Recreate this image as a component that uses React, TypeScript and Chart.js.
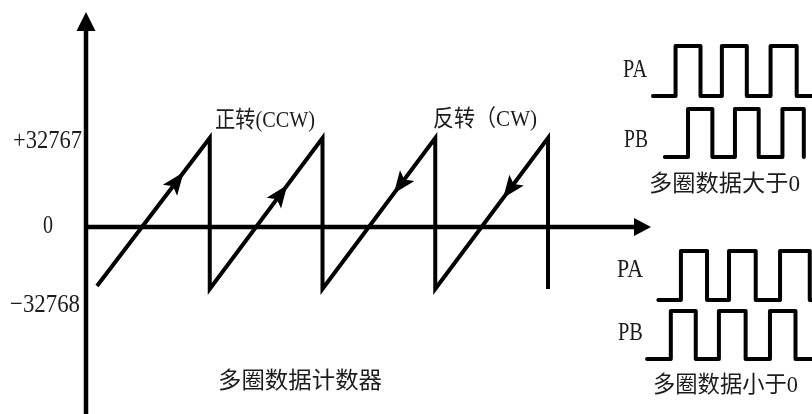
import React, { useEffect, useRef } from 'react';
import { Chart, registerables } from 'chart.js';

Chart.register(...registerables);

// ---- Multi-turn counter sawtooth: x in revolutions, y in counts ----
const SAW_T = [0, 1, 1, 2, 2, 3, 3, 4, 4];
const SAW_V = [-31500, 32767, -32768, 32767, -32768, 32767, -32768, 32767, -32768];
// arrowheads on the ramps (position in revolutions, +1 = forward / -1 = backward)
const ARROW_T = [0.76, 1.68, 2.64, 3.61];
const ARROW_DIR = [1, 1, -1, -1];

// ---- Texts ----
const TICK_LABELS = ['+32767', '0', '\u221232768'];
const RAMP_LABELS = ['正转(CCW)', '反转（CW)'];
const COUNTER_TITLE = '多圈数据计数器';
const PULSE_TITLES = ['多圈数据大于0', '多圈数据小于0'];
const CHANNEL_LABELS = ['PA', 'PB', 'PA', 'PB'];

// ---- Quadrature pulse trains: time in quarter periods, logic level 0/1 ----
const PA_POS_T = [0, 1.9, 4.0, 5.8, 7.9, 9.9, 12.1, 13.6];
const PA_POS_L = [0, 1, 0, 1, 0, 1, 0, 0];
const PB_POS_T = [1.0, 2.95, 5.0, 6.9, 8.9, 10.9, 12.7];
const PB_POS_L = [0, 1, 0, 1, 0, 1, 0];
const PA_NEG_T = [0.45, 2.35, 4.55, 6.4, 8.65, 10.7, 13.2, 13.6];
const PA_NEG_L = [0, 1, 0, 1, 0, 1, 0, 0];
const PB_NEG_T = [-0.5, 1.5, 3.6, 5.55, 7.8, 9.85, 12.0, 13.6];
const PB_NEG_L = [0, 1, 0, 1, 0, 1, 0, 0];

const W = 812;
const H = 414;
const INK = '#000';
const FONT_STACK = '"Liberation Serif", "Noto Sans CJK SC", serif';

function xRange(p0: number, v0: number, p1: number, v1: number, size: number) {
  const s = (p1 - p0) / (v1 - v0);
  const min = v0 - p0 / s;
  return { min, max: min + size / s };
}
function yRange(p0: number, v0: number, p1: number, v1: number, size: number) {
  const s = (p0 - p1) / (v1 - v0);
  const min = v0 - (size - p0) / s;
  return { min, max: min + size / s };
}

function pts(xs: number[], ys: number[]) {
  return xs.map((x, i) => ({ x, y: ys[i] }));
}

function drawText(ctx: CanvasRenderingContext2D, text: string, left: number, cy: number, width: number, size: number) {
  ctx.save();
  ctx.font = `${size}px ${FONT_STACK}`;
  ctx.textBaseline = 'middle';
  ctx.textAlign = 'left';
  const m = ctx.measureText(text).width || 1;
  ctx.translate(left, cy);
  ctx.scale(width / m, 1);
  ctx.fillStyle = '#1c1c1c';
  ctx.fillText(text, 0, 0);
  ctx.restore();
}

const diagramPlugin = {
  id: 'diagram',
  afterDatasetsDraw(chart: any) {
    const ctx: CanvasRenderingContext2D = chart.ctx;
    const xs = chart.scales.x;
    const ys = chart.scales.y;
    ctx.save();
    ctx.fillStyle = INK;
    ctx.strokeStyle = INK;

    // axes with arrowheads
    const ax = 86;
    const ay = 227;
    ctx.lineWidth = 4.5;
    ctx.lineCap = 'butt';
    ctx.beginPath();
    ctx.moveTo(ax, H);
    ctx.lineTo(ax, 28);
    ctx.moveTo(ax - 2, ay);
    ctx.lineTo(637, ay);
    ctx.stroke();
    ctx.beginPath();
    ctx.moveTo(ax, 12);
    ctx.lineTo(ax + 9.5, 31);
    ctx.lineTo(ax - 9.5, 31);
    ctx.closePath();
    ctx.fill();
    ctx.beginPath();
    ctx.moveTo(651, ay);
    ctx.lineTo(634, ay - 9);
    ctx.lineTo(634, ay + 9);
    ctx.closePath();
    ctx.fill();

    // arrowheads on sawtooth ramps
    ARROW_T.forEach((t, i) => {
      for (let k = 0; k < SAW_T.length - 1; k++) {
        const t0 = SAW_T[k];
        const t1 = SAW_T[k + 1];
        if (t1 > t0 && t >= t0 && t <= t1) {
          const x0 = xs.getPixelForValue(t0);
          const y0 = ys.getPixelForValue(SAW_V[k]);
          const x1 = xs.getPixelForValue(t1);
          const y1 = ys.getPixelForValue(SAW_V[k + 1]);
          const f = (t - t0) / (t1 - t0);
          const px = x0 + (x1 - x0) * f;
          const py = y0 + (y1 - y0) * f;
          let dx = x1 - x0;
          let dy = y1 - y0;
          const len = Math.hypot(dx, dy);
          dx = (dx / len) * ARROW_DIR[i];
          dy = (dy / len) * ARROW_DIR[i];
          const nx = -dy;
          const ny = dx;
          const L = 21;
          const Wd = 9;
          const notch = 5;
          ctx.beginPath();
          ctx.moveTo(px + dx * 1.5, py + dy * 1.5);
          ctx.lineTo(px - dx * L + nx * Wd, py - dy * L + ny * Wd);
          ctx.lineTo(px - dx * (L - notch), py - dy * (L - notch));
          ctx.lineTo(px - dx * L - nx * Wd, py - dy * L - ny * Wd);
          ctx.closePath();
          ctx.fill();
          break;
        }
      }
    });
    ctx.restore();

    // texts
    drawText(ctx, TICK_LABELS[0], 13, 141, 69, 26);
    drawText(ctx, TICK_LABELS[1], 43, 226, 10, 26);
    drawText(ctx, TICK_LABELS[2], 10, 305, 70, 26);
    drawText(ctx, RAMP_LABELS[0], 215, 121, 100, 23);
    drawText(ctx, RAMP_LABELS[1], 433, 120, 104, 23);
    drawText(ctx, COUNTER_TITLE, 218, 382, 164, 23);
    drawText(ctx, PULSE_TITLES[0], 649, 185, 151, 23);
    drawText(ctx, PULSE_TITLES[1], 653, 386, 145, 23);
    drawText(ctx, CHANNEL_LABELS[0], 623, 70, 24, 25);
    drawText(ctx, CHANNEL_LABELS[1], 624, 140, 24, 25);
    drawText(ctx, CHANNEL_LABELS[2], 617, 270, 26, 25);
    drawText(ctx, CHANNEL_LABELS[3], 618, 333, 25, 25);
  },
};

export default function App() {
  const ref = useRef<HTMLCanvasElement>(null);
  useEffect(() => {
    const canvas = ref.current;
    if (!canvas) return;
    const pulse = (data: any[], yAxisID: string) => ({
      data,
      xAxisID: 'xp',
      yAxisID,
      stepped: true,
      borderColor: INK,
      borderWidth: 4,
      borderCapStyle: 'round',
      borderJoinStyle: 'round',
      pointRadius: 0,
      fill: false,
      tension: 0,
    });
    const chart = new Chart(canvas, {
      type: 'line',
      data: {
        datasets: [
          {
            data: pts(SAW_T, SAW_V),
            xAxisID: 'x',
            yAxisID: 'y',
            borderColor: INK,
            borderWidth: 4,
            borderCapStyle: 'butt',
            borderJoinStyle: 'miter',
            pointRadius: 0,
            fill: false,
            tension: 0,
          } as any,
          pulse(pts(PA_POS_T, PA_POS_L), 'yPA1'),
          pulse(pts(PB_POS_T, PB_POS_L), 'yPB1'),
          pulse(pts(PA_NEG_T, PA_NEG_L), 'yPA2'),
          pulse(pts(PB_NEG_T, PB_NEG_L), 'yPB2'),
        ],
      },
      options: {
        responsive: false,
        animation: false,
        devicePixelRatio: 1,
        events: [],
        layout: { padding: 0 },
        plugins: {
          legend: { display: false },
          tooltip: { enabled: false },
          title: { display: false },
        },
        scales: {
          x: { type: 'linear', display: false, ...xRange(97, 0, 548, 4, W) },
          y: { type: 'linear', display: false, ...yRange(138, 32767, 289, -32768, H) },
          xp: { type: 'linear', display: false, ...xRange(653, 0, 664.875, 1, W) },
          yPA1: { type: 'linear', display: false, ...yRange(96, 0, 46, 1, H) },
          yPB1: { type: 'linear', display: false, ...yRange(157, 0, 109, 1, H) },
          yPA2: { type: 'linear', display: false, ...yRange(300, 0, 251, 1, H) },
          yPB2: { type: 'linear', display: false, ...yRange(359, 0, 311, 1, H) },
        },
      } as any,
      plugins: [diagramPlugin],
    });
    return () => chart.destroy();
  }, []);
  return (
    <div style={{ position: 'absolute', left: 0, top: 0, width: W, height: H, background: '#fff' }}>
      <canvas ref={ref} width={W} height={H} style={{ display: 'block' }} />
    </div>
  );
}
